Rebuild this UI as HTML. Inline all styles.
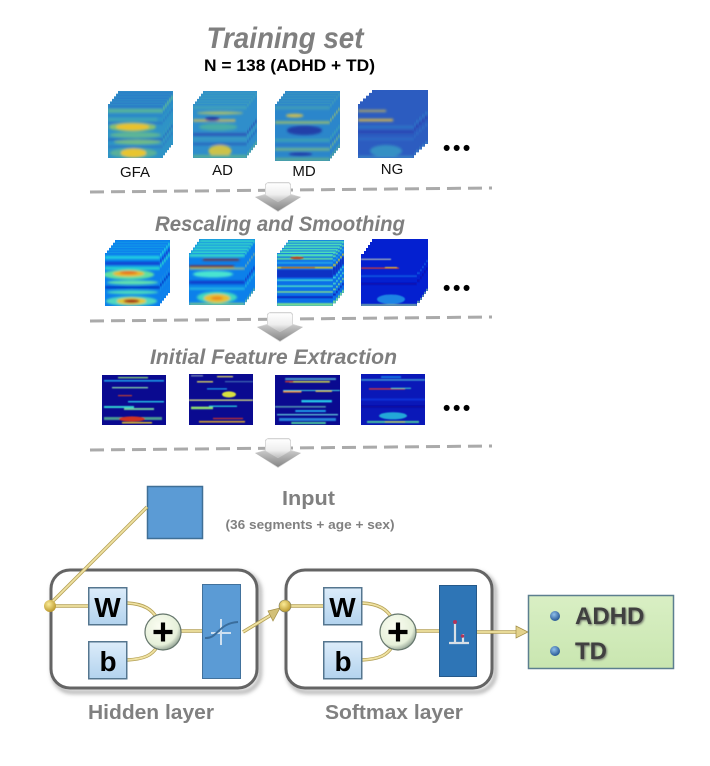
<!DOCTYPE html>
<html><head><meta charset="utf-8"><style>
html,body{margin:0;padding:0;background:#fff}
svg{display:block}
text{font-family:"Liberation Sans",sans-serif}
</style></head><body>
<svg xmlns="http://www.w3.org/2000/svg" width="710" height="766" viewBox="0 0 710 766">
<defs>
<filter id="b1" x="-10%" y="-10%" width="120%" height="120%"><feGaussianBlur stdDeviation="1.2"/></filter>
<filter id="b2" x="-10%" y="-10%" width="120%" height="120%"><feGaussianBlur stdDeviation="0.5"/></filter>
<filter id="sh" x="-10%" y="-10%" width="125%" height="125%"><feGaussianBlur stdDeviation="2"/></filter>
<filter id="ts" x="-10%" y="-20%" width="120%" height="150%"><feDropShadow dx="1" dy="1" stdDeviation="1" flood-color="#555" flood-opacity=".8"/></filter>
<clipPath id="c"><rect width="56" height="54"/></clipPath>
<linearGradient id="arw" x1="0" y1="0" x2="0" y2="1"><stop offset="0" stop-color="#fff"/><stop offset=".6" stop-color="#eee"/><stop offset="1" stop-color="#bbb"/></linearGradient>
<linearGradient id="arw2" x1="0" y1="0" x2="0" y2="1"><stop offset="0" stop-color="#c8c8c8"/><stop offset="1" stop-color="#858585"/></linearGradient>
<linearGradient id="lb" x1="0" y1="0" x2="0" y2="1"><stop offset="0" stop-color="#dcecfa"/><stop offset="1" stop-color="#b3d3ee"/></linearGradient>
<radialGradient id="pl" cx=".4" cy=".35" r=".75"><stop offset="0" stop-color="#fbfdf2"/><stop offset=".68" stop-color="#e6f0da"/><stop offset="1" stop-color="#6c7e74"/></radialGradient>
<radialGradient id="yd" cx=".4" cy=".35" r=".7"><stop offset="0" stop-color="#fbeb96"/><stop offset="1" stop-color="#b79427"/></radialGradient>
<radialGradient id="bd" cx=".4" cy=".35" r=".7"><stop offset="0" stop-color="#8fc0ea"/><stop offset="1" stop-color="#1f4f8d"/></radialGradient>
<linearGradient id="gr" x1="0" y1="0" x2="0" y2="1"><stop offset="0" stop-color="#d9efc4"/><stop offset="1" stop-color="#c9e6b0"/></linearGradient>

<!-- row 1 heatmaps -->
<symbol id="h1" viewBox="0 0 56 54" preserveAspectRatio="none"><g clip-path="url(#c)"><rect width="56" height="54" fill="#2e93c6"/><g filter="url(#b1)">
<rect y="1" width="56" height="3" fill="#2a78c8"/><rect y="5" width="56" height="3.500" fill="#58b49a"/><rect y="10" width="56" height="3" fill="#2a86c8"/><rect y="14" width="50" height="3" fill="#3fa6b4"/><rect y="18" width="56" height="2" fill="#2a74c4"/>
<ellipse cx="25" cy="23" rx="24" ry="4.500" fill="#88c070"/><ellipse cx="25" cy="23" rx="17" ry="3.200" fill="#eac22c"/><ellipse cx="28" cy="31" rx="26" ry="3" fill="#5db596"/><rect y="34.500" width="56" height="2" fill="#2868bc"/>
<ellipse cx="30" cy="38" rx="24" ry="2.500" fill="#70bb88"/><rect y="42" width="56" height="1.500" fill="#2d70c2"/><ellipse cx="26" cy="49" rx="24" ry="5" fill="#58b09a"/><ellipse cx="26" cy="49" rx="13" ry="4.500" fill="#e8c52e"/></g></g></symbol>
<symbol id="h2" viewBox="0 0 56 54" preserveAspectRatio="none"><g clip-path="url(#c)"><rect width="56" height="54" fill="#2f8ecb"/><g filter="url(#b1)">
<rect y="2" width="56" height="3" fill="#3fa2ba"/><ellipse cx="28" cy="9" rx="24" ry="1.500" fill="#a8c070"/><rect y="15.500" width="44" height="2" fill="#e0be50"/><ellipse cx="20" cy="15" rx="8" ry="2" fill="#24369a"/>
<ellipse cx="26" cy="23" rx="20" ry="3.500" fill="#48aca6"/><rect y="29" width="56" height="3" fill="#2b58b6"/><rect y="34" width="56" height="2" fill="#3a9ec0"/><rect y="39" width="56" height="2" fill="#2860bb"/><ellipse cx="28" cy="47" rx="12" ry="6" fill="#ccc24a"/><rect y="51" width="56" height="3" fill="#58b096"/></g></g></symbol>
<symbol id="h3" viewBox="0 0 56 54" preserveAspectRatio="none"><g clip-path="url(#c)"><rect width="56" height="54" fill="#2b86cb"/><g filter="url(#b1)">
<rect y="2" width="56" height="3" fill="#3f9cb8"/><ellipse cx="20" cy="11" rx="9" ry="1.800" fill="#cbbd55"/><rect y="16.500" width="56" height="2" fill="#a4c266"/>
<ellipse cx="30" cy="25" rx="18" ry="4.500" fill="#2340a8"/><rect y="33" width="56" height="2.500" fill="#3ea3b3"/><rect y="38" width="56" height="1.500" fill="#2c70c4"/><rect y="42" width="56" height="2" fill="#7fbb80"/><ellipse cx="26" cy="47.500" rx="12" ry="1.800" fill="#2340a8"/><rect y="51" width="56" height="3" fill="#58aa98"/></g></g></symbol>
<symbol id="h4" viewBox="0 0 56 54" preserveAspectRatio="none"><g clip-path="url(#c)"><rect width="56" height="54" fill="#2c5cc0"/><g filter="url(#b1)">
<rect y="6" width="28" height="1.800" fill="#c4b45a"/><rect y="15" width="35" height="2.200" fill="#e8c040"/><rect y="22" width="56" height="2" fill="#2e7ac8"/><rect y="27" width="56" height="2" fill="#2c3fae"/><rect y="34" width="56" height="2" fill="#2f70c6"/><ellipse cx="28" cy="47" rx="16" ry="6" fill="#3490c4"/><rect y="52" width="56" height="2" fill="#3c8cc8"/></g></g></symbol>

<!-- row 2 heatmaps -->
<symbol id="r1" viewBox="0 0 56 54" preserveAspectRatio="none"><g clip-path="url(#c)"><rect width="56" height="54" fill="#0c80ec"/><g filter="url(#b1)">
<rect y="3" width="56" height="3" fill="#22d4e0"/><rect y="9" width="56" height="3" fill="#0a3fd0"/><rect y="14" width="56" height="3" fill="#28d8d0"/><ellipse cx="24" cy="22" rx="26" ry="5" fill="#60e0a0"/><ellipse cx="24" cy="21" rx="16" ry="3" fill="#e8b82c"/><ellipse cx="24" cy="20" rx="9" ry="1.600" fill="#e8701c"/>
<ellipse cx="28" cy="30" rx="26" ry="2.200" fill="#60e0b0"/><rect y="34" width="56" height="2" fill="#0626b8"/><ellipse cx="28" cy="40" rx="26" ry="2" fill="#48d8c0"/><ellipse cx="27" cy="49" rx="26" ry="5" fill="#50d8c0"/><ellipse cx="27" cy="49" rx="15" ry="3.600" fill="#e0c838"/><ellipse cx="27" cy="49" rx="8" ry="1.800" fill="#a01c18"/></g></g></symbol>
<symbol id="r2" viewBox="0 0 56 54" preserveAspectRatio="none"><g clip-path="url(#c)"><rect width="56" height="54" fill="#0c80ea"/><g filter="url(#b1)">
<rect y="1" width="56" height="3" fill="#38dcc8"/><rect x="14" y="6" width="36" height="2" fill="#7a2a30"/><rect y="13" width="45" height="2.200" fill="#8a1c28"/><rect y="15.500" width="56" height="1.200" fill="#e8e060"/>
<ellipse cx="24" cy="22" rx="20" ry="3.500" fill="#48e4d0"/><rect y="29" width="56" height="3" fill="#0a38c8"/><rect y="36" width="56" height="2" fill="#28c0e0"/><ellipse cx="28" cy="46" rx="20" ry="6" fill="#40d8c0"/><ellipse cx="28" cy="47" rx="13" ry="4.500" fill="#e8c030"/><ellipse cx="28" cy="47" rx="6" ry="1.800" fill="#ee8a1c"/><rect y="52" width="56" height="2" fill="#90d880"/></g></g></symbol>
<symbol id="r3" viewBox="0 0 56 54" preserveAspectRatio="none"><g clip-path="url(#c)"><rect width="56" height="54" fill="#0c70e8"/><g filter="url(#b2)">
<rect y="1" width="56" height="2.500" fill="#50e0b8"/><rect y="5" width="56" height="1.800" fill="#60dca0"/><ellipse cx="20" cy="5" rx="7" ry="1.500" fill="#b04a28"/><rect y="9" width="56" height="2" fill="#20a0e8"/><rect y="14" width="56" height="1.800" fill="#c8c030"/><rect y="14.500" x="4" width="34" height=".9" fill="#b43020"/><rect y="17" width="56" height="8" fill="#0a30c4"/>
<rect y="27" width="56" height="1.400" fill="#40d8d8"/><rect y="33" width="56" height="1.600" fill="#48d8c8"/><rect y="39" width="56" height="1.400" fill="#88e088"/><rect y="44" width="56" height="2" fill="#0a28c0"/><rect y="51" width="56" height="3" fill="#70d898"/></g></g></symbol>
<symbol id="r4" viewBox="0 0 56 54" preserveAspectRatio="none"><g clip-path="url(#c)"><rect width="56" height="54" fill="#0420d0"/><g filter="url(#b2)">
<rect y="5" width="30" height="1" fill="#d8e0b0"/><rect y="14" width="38" height="1.300" fill="#d83a30"/><rect y="13.500" x="24" width="12" height="1" fill="#e8c030"/><rect y="22" width="56" height="2" fill="#0a50e0"/><rect y="30" width="56" height="2" fill="#0810b0"/>
<ellipse cx="30" cy="47" rx="14" ry="5" fill="#1c84e4"/><rect y="52" width="56" height="2" fill="#70a8a8"/></g></g></symbol>

<!-- row 3 heatmaps -->
<symbol id="s1" viewBox="0 0 64 50" preserveAspectRatio="none"><rect width="64" height="50" fill="#0a0a90"/><g filter="url(#b2)" fill="#1e9ce8">
<rect x="16" y="2" width="30" height="1.300" fill="#88d878"/><rect x="2" y="5" width="60" height="1.600"/><rect x="10" y="12" width="36" height="1.300" fill="#88d8a8"/><rect x="16" y="20" width="14" height="1.200" fill="#c04030"/><rect x="26" y="26" width="36" height="1.400" fill="#28c8e8"/><rect x="2" y="31" width="30" height="2" fill="#30d0d0"/><rect x="22" y="33" width="30" height="2" fill="#70c8a0"/><rect y="42" x="2" width="58" height="3" fill="#4c9a90"/><ellipse cx="30" cy="44" rx="13" ry="2.600" fill="#d03020"/><rect x="20" y="47" width="30" height="1.500" fill="#e0c030"/></g></symbol>
<symbol id="s2" viewBox="0 0 64 50" preserveAspectRatio="none"><rect width="64" height="50" fill="#0a0a90"/><g filter="url(#b2)" fill="#1e9ce8">
<rect x="2" y="1" width="12" height="1.500" fill="#6a7ab0"/><rect x="28" y="2" width="16" height="1.200" fill="#e8e060"/><rect x="8" y="7" width="16" height="1.300" fill="#e0d860"/><rect x="36" y="7" width="28" height="1" fill="#4a7ab8"/><rect x="18" y="14" width="20" height="1.200"/><ellipse cx="40" cy="20" rx="7" ry="3" fill="#d8e040"/><rect y="25" width="64" height="1.300" fill="#d8e080"/><rect x="2" y="32" width="22" height="2.500" fill="#90e070"/><rect x="20" y="31" width="28" height="1.200" fill="#28d8e0"/><rect x="24" y="43" width="30" height="1.300" fill="#c03030"/><rect x="10" y="46" width="46" height="1.600" fill="#d0a030"/></g></symbol>
<symbol id="s3" viewBox="0 0 64 50" preserveAspectRatio="none"><rect width="64" height="50" fill="#0a0a90"/><g filter="url(#b2)" fill="#1e9ce8">
<rect y="3" x="10" width="50" height="2" fill="#4898c8"/><rect x="14" y="6" width="40" height="1.600" fill="#c8d050"/><rect x="10" y="6" width="8" height="1.300" fill="#d04030"/><rect x="8" y="15" width="56" height="1" fill="#40d8e0"/><rect x="8" y="16" width="18" height="1.600" fill="#e89030"/><rect x="40" y="15.500" width="16" height="1.400" fill="#d8c850"/><rect x="26" y="25" width="30" height="2.400" fill="#28c8e8"/><rect y="31" width="50" height="1.600" fill="#5090b0"/><rect x="20" y="35" width="30" height="2"/><rect y="39" x="2" width="60" height="1.300" fill="#60c8d8"/><rect x="4" y="43" width="56" height="3" fill="#2880d8"/><rect x="16" y="47" width="34" height="2" fill="#48c8a0"/></g></symbol>
<symbol id="s4" viewBox="0 0 64 50" preserveAspectRatio="none"><rect width="64" height="50" fill="#0a18b8"/><g filter="url(#b2)">
<rect y="5" width="64" height="1.600" fill="#3c90d0"/><rect x="20" y="2" width="20" height="2" fill="#1870e0"/><rect y="14" x="8" width="36" height="1.300" fill="#d83838"/><rect x="30" y="13.500" width="20" height="1" fill="#40d8c8"/><rect y="24" width="64" height="2" fill="#0a30d8"/><rect y="31" width="64" height="2" fill="#0808a0"/><ellipse cx="32" cy="41" rx="14" ry="3.500" fill="#20a8d8"/><rect y="46" x="6" width="52" height="2" fill="#48c0a0"/><rect x="24" y="46.500" width="20" height="1" fill="#c8c050"/></g></symbol>

<g id="arrow">
<path d="M-23 15 L-13 12 L-13 2 L-10 0 L11 0 L13 2 L13 12 L23 15 L0 30Z" fill="#d6d6d6"/>
<path d="M-11 1 L11 1 L12.500 3 L12.500 13 L0 20 L-12.500 13 L-12.500 3Z" fill="url(#arw)" stroke="#d0d0d0" stroke-width=".6"/>
<path d="M-13 13 L0 20 L13 13 L23 15 L0 29 L-23 15Z" fill="url(#arw2)"/>
</g>
<g id="wb"><rect x=".75" y=".75" width="38" height="37" fill="url(#lb)" stroke="#55768f" stroke-width="1.500"/></g>
</defs>

<!-- titles -->
<text x="285" y="48" text-anchor="middle" font-size="29.500" font-weight="bold" font-style="italic" fill="#7f7f7f" textLength="157" lengthAdjust="spacingAndGlyphs">Training set</text>
<text x="289.500" y="71" text-anchor="middle" font-size="16.500" font-weight="bold" fill="#000" textLength="171" lengthAdjust="spacingAndGlyphs">N = 138 (ADHD + TD)</text>

<!-- row 1 -->
<g>
<use href="#h1" x="118" y="91" width="55" height="54"/><use href="#h1" x="116" y="93.600" width="55" height="54"/><use href="#h1" x="114" y="96.200" width="55" height="54"/><use href="#h1" x="112" y="98.800" width="55" height="54"/><use href="#h1" x="110" y="101.400" width="55" height="54"/><use href="#h1" x="108" y="104" width="55" height="54"/>
<use href="#h2" x="203" y="91" width="54" height="54"/><use href="#h2" x="201" y="93.600" width="54" height="54"/><use href="#h2" x="199" y="96.200" width="54" height="54"/><use href="#h2" x="197" y="98.800" width="54" height="54"/><use href="#h2" x="195" y="101.400" width="54" height="54"/><use href="#h2" x="193" y="104" width="54" height="54"/>
<use href="#h3" x="285" y="91" width="55" height="57"/><use href="#h3" x="283" y="93.600" width="55" height="57"/><use href="#h3" x="281" y="96.200" width="55" height="57"/><use href="#h3" x="279" y="98.800" width="55" height="57"/><use href="#h3" x="277" y="101.400" width="55" height="57"/><use href="#h3" x="275" y="104" width="55" height="57"/>
<use href="#h4" x="372" y="90" width="56" height="54"/><use href="#h4" x="369" y="92.800" width="56" height="54"/><use href="#h4" x="366" y="95.600" width="56" height="54"/><use href="#h4" x="363" y="98.400" width="56" height="54"/><use href="#h4" x="360" y="101.200" width="56" height="54"/><use href="#h4" x="358" y="104" width="56" height="54"/>
</g>
<g font-size="15" fill="#111" text-anchor="middle">
<text x="135" y="177">GFA</text><text x="222.500" y="175">AD</text><text x="304" y="176">MD</text><text x="392" y="174">NG</text>
</g>
<text x="443" y="155" font-size="21" font-weight="bold" letter-spacing="2.600">•••</text>

<!-- separators -->
<g stroke="#aaa" stroke-width="3" stroke-dasharray="14 7" fill="none">
<path d="M90 192 L492 188"/><path d="M90 321 L492 317"/><path d="M90 450 L492 446"/>
</g>
<use href="#arrow" x="278" y="182"/>
<use href="#arrow" x="280" y="312"/>
<use href="#arrow" x="278" y="438"/>

<text x="280" y="231" text-anchor="middle" font-size="21" font-weight="bold" font-style="italic" fill="#7f7f7f" textLength="250" lengthAdjust="spacingAndGlyphs">Rescaling and Smoothing</text>

<!-- row 2 -->
<g>
<use href="#r1" x="115" y="240" width="55" height="53"/><use href="#r1" x="113" y="242.600" width="55" height="53"/><use href="#r1" x="111" y="245.200" width="55" height="53"/><use href="#r1" x="109" y="247.800" width="55" height="53"/><use href="#r1" x="107" y="250.400" width="55" height="53"/><use href="#r1" x="105" y="253" width="55" height="53"/>
<use href="#r2" x="199" y="239" width="56" height="52"/><use href="#r2" x="197" y="241.800" width="56" height="52"/><use href="#r2" x="195" y="244.600" width="56" height="52"/><use href="#r2" x="193" y="247.400" width="56" height="52"/><use href="#r2" x="191" y="250.200" width="56" height="52"/><use href="#r2" x="189" y="253" width="56" height="52"/>
<use href="#r3" x="288" y="240" width="56" height="53"/><use href="#r3" x="286" y="242.600" width="56" height="53"/><use href="#r3" x="284" y="245.200" width="56" height="53"/><use href="#r3" x="282" y="247.800" width="56" height="53"/><use href="#r3" x="280" y="250.400" width="56" height="53"/><use href="#r3" x="277" y="253" width="56" height="53"/>
<use href="#r4" x="372" y="239" width="56" height="52"/><use href="#r4" x="370" y="242" width="56" height="52"/><use href="#r4" x="368" y="245" width="56" height="52"/><use href="#r4" x="366" y="248" width="56" height="52"/><use href="#r4" x="364" y="251" width="56" height="52"/><use href="#r4" x="361" y="254" width="56" height="52"/>
</g>
<text x="443" y="295" font-size="21" font-weight="bold" letter-spacing="2.600">•••</text>

<text x="273.500" y="364" text-anchor="middle" font-size="21" font-weight="bold" font-style="italic" fill="#7f7f7f" textLength="247" lengthAdjust="spacingAndGlyphs">Initial Feature Extraction</text>

<!-- row 3 -->
<use href="#s1" x="102" y="375" width="64" height="50"/>
<use href="#s2" x="189" y="374" width="64" height="51"/>
<use href="#s3" x="275" y="375" width="65" height="50"/>
<use href="#s4" x="361" y="374" width="64" height="51"/>
<text x="443" y="415" font-size="21" font-weight="bold" letter-spacing="2.600">•••</text>

<!-- input -->
<rect x="147.500" y="486.500" width="55" height="52" fill="#5b9bd5" stroke="#3f6f96" stroke-width="1.500"/>
<text x="308.500" y="505" text-anchor="middle" font-size="20" font-weight="bold" fill="#808080" textLength="53" lengthAdjust="spacingAndGlyphs">Input</text>
<text x="310" y="529" text-anchor="middle" font-size="13" font-weight="bold" fill="#808080" textLength="169" lengthAdjust="spacingAndGlyphs">(36 segments + age + sex)</text>

<!-- layer boxes -->
<rect x="53" y="573" width="207" height="119" rx="19" fill="none" stroke="#999" stroke-width="3" filter="url(#sh)"/>
<rect x="288" y="573" width="207" height="119" rx="19" fill="none" stroke="#999" stroke-width="3" filter="url(#sh)"/>
<rect x="51" y="570" width="206" height="118" rx="19" fill="#fff" stroke="#646464" stroke-width="3"/>
<rect x="286" y="570" width="206" height="118" rx="19" fill="#fff" stroke="#646464" stroke-width="3"/>

<!-- connectors -->
<g fill="none" stroke="#b5a258" stroke-width="3.400">
<path d="M147 507 L50 604"/><path d="M50 606 H88"/>
<path d="M127 603 C145 604 152 610 157 618"/><path d="M127 660 C145 659 152 655 157 647"/>
<path d="M181 631 H204"/>
<path d="M285 606 H323"/>
<path d="M362 603 C380 604 387 610 392 618"/><path d="M362 660 C380 659 387 655 392 647"/>
<path d="M416 631 H439"/>
<path d="M243 632 L276 612"/>
<path d="M477 632 H517"/>
</g>
<g fill="none" stroke="#f0e2a2" stroke-width="1.800">
<path d="M147 507 L50 604"/><path d="M50 606 H88"/>
<path d="M127 603 C145 604 152 610 157 618"/><path d="M127 660 C145 659 152 655 157 647"/>
<path d="M181 631 H204"/>
<path d="M285 606 H323"/>
<path d="M362 603 C380 604 387 610 392 618"/><path d="M362 660 C380 659 387 655 392 647"/>
<path d="M416 631 H439"/>
<path d="M243 632 L276 612"/>
<path d="M477 632 H517"/>
</g>
<path d="M268 611 L280 608 L273 621Z" fill="#d3c078" stroke="#a38f47" stroke-width=".7"/>
<path d="M516 626 L528 632 L516 638Z" fill="#e3d28c" stroke="#a38f47" stroke-width=".7"/>

<circle cx="50" cy="606" r="6" fill="url(#yd)"/>
<circle cx="285" cy="606" r="6" fill="url(#yd)" stroke="#7d7d60" stroke-width=".6"/>

<!-- W / b -->
<use href="#wb" x="88" y="587"/><use href="#wb" x="88" y="641"/>
<use href="#wb" x="323" y="587"/><use href="#wb" x="323" y="641"/>
<g font-weight="bold" font-size="28" fill="#000" text-anchor="middle">
<text x="107.500" y="617">W</text><text x="108" y="671">b</text>
<text x="342.500" y="617">W</text><text x="343" y="671">b</text>
</g>

<!-- plus -->
<g>
<circle cx="163" cy="632" r="18" fill="url(#pl)" stroke="#65766c" stroke-width="1.200"/>
<path d="M153.500 632 H172.500 M163 622.500 V641.500" stroke="#000" stroke-width="4.200" fill="none"/>
<circle cx="398" cy="632" r="18" fill="url(#pl)" stroke="#65766c" stroke-width="1.200"/>
<path d="M388.500 632 H407.500 M398 622.500 V641.500" stroke="#000" stroke-width="4.200" fill="none"/>
</g>

<!-- transfer blocks -->
<rect x="202.500" y="584.500" width="38" height="94" fill="#5b9bd5" stroke="#41719c"/>
<path d="M211 633 H231 M221 619 V645" stroke="#cfe0f0" stroke-width="2" fill="none"/>
<path d="M205 638 C218 639 218 623 238 622" stroke="#3a6d9c" stroke-width="2" fill="none"/>
<rect x="439.500" y="585.500" width="37" height="91" fill="#2e75b6" stroke="#25598a"/>
<path d="M449 643 H469 M455 643 V622 M463 643 V634" stroke="#d8dfe6" stroke-width="2.200" fill="none"/>
<circle cx="455" cy="622" r="2" fill="#b0345a"/><circle cx="462.500" cy="636" r="1.800" fill="#b0345a"/>

<!-- output -->
<rect x="528.500" y="595.500" width="145" height="73" fill="url(#gr)" stroke="#5c7f8f" stroke-width="1.500"/>
<circle cx="555" cy="616" r="5" fill="url(#bd)"/>
<circle cx="555" cy="651" r="5" fill="url(#bd)"/>
<g font-size="24" font-weight="bold" fill="#3f3f3f" filter="url(#ts)">
<text x="575" y="624">ADHD</text><text x="575" y="659">TD</text>
</g>

<text x="151" y="719" text-anchor="middle" font-size="20" font-weight="bold" fill="#808080" textLength="126" lengthAdjust="spacingAndGlyphs">Hidden layer</text>
<text x="394" y="719" text-anchor="middle" font-size="20" font-weight="bold" fill="#808080" textLength="138" lengthAdjust="spacingAndGlyphs">Softmax layer</text>
</svg>
</body></html>
